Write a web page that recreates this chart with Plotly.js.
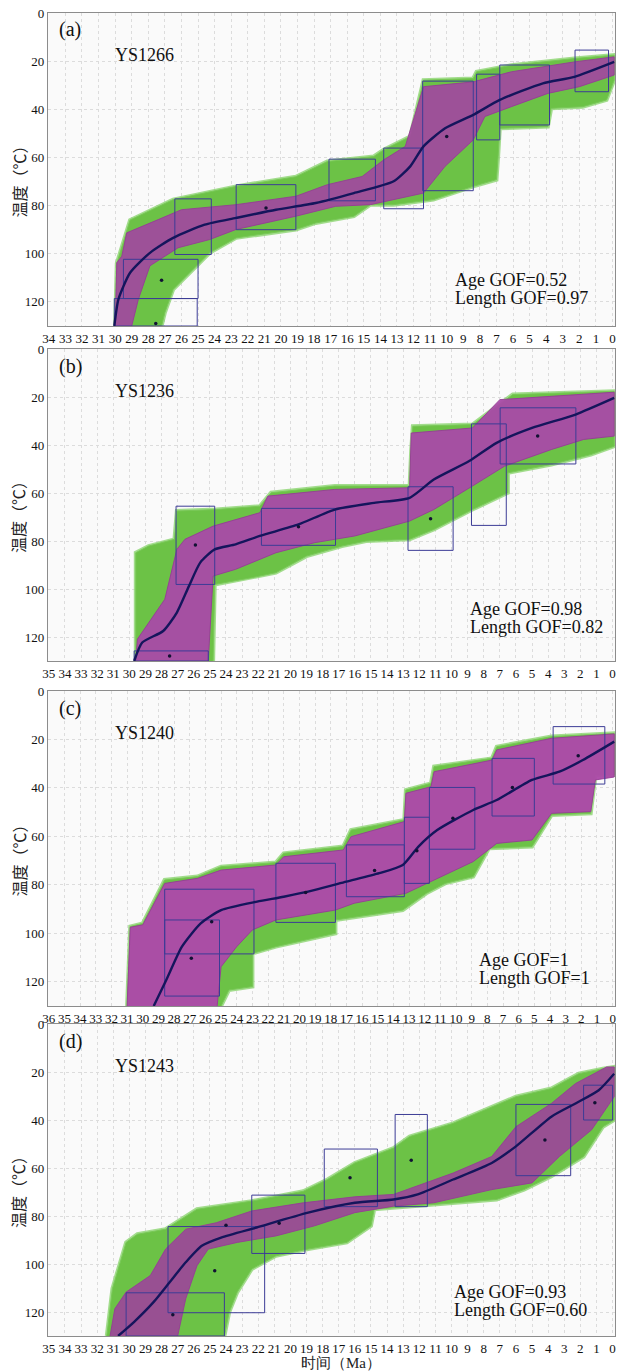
<!DOCTYPE html>
<html>
<head>
<meta charset="utf-8">
<script src="https://cdn.plot.ly/plotly-3.0.1.min.js"></script>
<style>html,body{margin:0;padding:0;background:#fff;}#chart{width:617px;height:1372px;}</style>
</head>
<body>
<div id="chart"></div>
<script>
// ---------------- DATA ----------------
// Panel (a) YS1266
var aGreenUpT = [30.0, 29.9, 29.1, 26.5, 22.7, 19.1, 17.2, 14.4, 13.8, 12.2, 11.4, 8.4, 8.2, 6.1, 2.3, -0.1];
var aGreenUpC = [130, 104, 86, 77.5, 72, 68, 61.7, 59.6, 56.8, 51.3, 27.9, 27.2, 24.4, 21.7, 18.9, 17.5];
var aGreenLoT = [-0.1, 0.36, 1.8, 3.7, 3.9, 6.8, 6.9, 7.0, 8.4, 10.8, 13.2, 14.6, 15.6, 17.9, 19.1, 22.7, 24.3, 25.1, 26.5, 27.0, 27.2];
var aGreenLoC = [27.9, 36.1, 38.9, 39.6, 47.2, 47.9, 59.6, 69.2, 72, 77.5, 79.6, 79.6, 84.4, 87.2, 89.9, 93.4, 99.6, 105, 114.8, 124.4, 130];
var aGoodUpT = [30.0, 29.9, 29.6, 29.3, 27.4, 26.0, 22.7, 19.1, 17.2, 15.1, 13.8, 12.5, 11.4, 8.4, 6.1, 2.3, -0.1];
var aGoodUpC = [130, 103.7, 101, 91.3, 85.8, 81.7, 79.6, 76.1, 71.3, 67.9, 61, 55.4, 30.6, 28.6, 24.4, 20.3, 18.2];
var aGoodLoT = [-0.1, 2.0, 3.9, 6.1, 7.7, 8.4, 10.1, 11.4, 13.2, 14.6, 16.7, 19.1, 22.7, 24.3, 26.2, 27.9, 28.6, 29.0];
var aGoodLoC = [25.8, 30.6, 33.4, 38.9, 43, 52.7, 63.7, 74.8, 77.5, 79.6, 80.3, 84.4, 89.9, 94.1, 97.5, 105, 118.9, 130];
var aBestT = [30.05, 29.8, 29.1, 27.9, 26.5, 24.6, 22.7, 20.3, 17.9, 15.6, 13.2, 12.2, 11.4, 10.1, 8.4, 6.8, 4.2, 2.3, -0.1];
var aBestC = [130, 118.9, 107.9, 99.6, 93.4, 87.9, 85.1, 81.7, 78.9, 74.8, 69.9, 63.7, 55.4, 47.9, 42.3, 36.1, 29.2, 26.5, 20.3];
var aBoxT0 = [30.05, 29.5, 26.4, 22.7, 17.1, 13.8, 11.45, 8.2, 6.8, 2.26];
var aBoxT1 = [25.05, 25.0, 24.2, 19.1, 14.3, 11.4, 8.4, 6.8, 3.8, 0.24];
var aBoxC0 = [118.6, 102.3, 77.2, 71.3, 60.7, 56.1, 28.3, 25.4, 21.6, 15.4];
var aBoxC1 = [130, 118.6, 100.3, 90, 78, 81.3, 73.8, 52.7, 46.5, 32.7];
var aDotT = [27.55, 20.9, 10.0, 27.2];
var aDotC = [129, 81, 51.3, 111];

// Panel (b) YS1236
var bGreenUpT = [29.6, 29.6, 28.8, 27.2, 27.05, 24.6, 21.9, 21.2, 17.25, 12.6, 12.5, 12.4, 8.7, 7.2, 6.2, -0.1];
var bGreenUpC = [130, 84.9, 82.1, 79.3, 67.5, 66.9, 65.5, 59.9, 57.1, 57.1, 41.9, 32.2, 31.5, 23.9, 19, 17.6];
var bGreenLoT = [-0.1, 1.35, 3.8, 6.5, 6.5, 8.7, 9.9, 11.1, 12.6, 15.3, 16.8, 19.0, 20.9, 22.4, 24.7, 24.8];
var bGreenLoC = [40.5, 44, 48.1, 51.6, 59.9, 66.9, 71, 75.2, 79.3, 80, 82.1, 86.3, 93.2, 95.3, 98.1, 130];
var bGoodUpT = [29.6, 29.5, 27.8, 27.3, 27.05, 26.55, 24.8, 21.9, 21.4, 17.25, 12.6, 12.5, 8.7, 7.0, 3.8, -0.1];
var bGoodUpC = [130, 120.9, 104.3, 90.4, 83.5, 79.3, 73.8, 68.2, 61.3, 58.5, 57.8, 35, 32.9, 21.1, 19.7, 18];
var bGoodLoT = [-0.1, 1.8, 3.8, 6.7, 8.7, 11.1, 12.6, 16.0, 18.5, 20.9, 23.4, 24.8, 25.1];
var bGoodLoC = [36.3, 37.7, 41.9, 48.8, 57.1, 66.9, 71.7, 77.9, 80.7, 84.9, 91.8, 94.6, 130];
var bBestT = [29.7, 29.2, 27.9, 27.05, 26.3, 25.6, 24.7, 23.4, 21.9, 19.5, 17.25, 14.8, 12.6, 11.1, 8.9, 7.2, 5.0, 2.3, -0.1];
var bBestC = [130, 122.3, 117.5, 109.8, 98.8, 89, 83.5, 81.4, 77.9, 73.1, 66.9, 64.1, 62, 54.4, 46.7, 39.1, 32.9, 27.3, 20.4];
var bBoxT0 = [29.7, 27.1, 21.8, 12.7, 8.76, 6.98];
var bBoxT1 = [25.1, 24.7, 17.2, 9.9, 6.6, 2.28];
var bBoxC0 = [125.8, 65.5, 66.4, 57.4, 31.2, 24.5];
var bBoxC1 = [130, 98.1, 81.8, 83.9, 73.5, 47.9];
var bDotT = [11.3, 19.5, 4.65, 25.9, 27.5];
var bDotC = [70.7, 74.1, 36.3, 81.7, 127.9];

// Panel (c) YS1240
var cGreenUpT = [31.0, 30.8, 30.0, 28.6, 26.5, 25.0, 21.5, 21.0, 17.2, 16.7, 13.3, 13.2, 11.6, 11.4, 7.7, 7.4, 3.9, -0.1];
var cGreenUpC = [130, 97.2, 95.9, 78, 76.6, 72.5, 70.8, 67, 64.2, 57.4, 53.2, 40.9, 38.1, 31.2, 27.8, 23, 18.8, 17.5];
var cGreenLoT = [-0.1, 1.1, 1.4, 3.9, 5.15, 7.9, 8.9, 10.7, 11.9, 13.4, 17.7, 17.7, 21.5, 23.0, 23.0, 24.5, 25.0];
var cGreenLoC = [34.7, 34.7, 50.5, 51.2, 64.2, 64.9, 76.6, 79.4, 83.5, 90.4, 94.5, 100, 105.5, 108.3, 122, 123.4, 130];
var cGoodUpT = [31.0, 30.8, 30.0, 28.6, 26.5, 25.0, 21.5, 21.0, 17.2, 16.7, 13.3, 13.2, 11.6, 11.4, 7.7, 7.4, 3.9, -0.1];
var cGoodUpC = [130, 97.5, 96.5, 79.4, 77.3, 73.9, 71.8, 68.4, 65.6, 60.1, 53.9, 42.2, 39.5, 33.3, 28.5, 24.3, 19.5, 17.7];
var cGoodLoT = [-0.1, 1.1, 1.4, 3.9, 5.15, 7.4, 8.9, 11.4, 13.2, 16.5, 17.7, 21.5, 23.0, 24.0, 25.0, 25.25];
var cGoodLoC = [35.5, 36.7, 49.8, 50.5, 61.5, 62.9, 70.4, 78, 83.5, 87.6, 90.4, 94.5, 98.6, 105.5, 113.8, 130];
var cBestT = [29.3, 28.5, 27.5, 26.3, 25.0, 22.7, 21.0, 19.0, 17.0, 14.9, 13.4, 12.4, 11.2, 8.9, 7.4, 5.15, 3.4, 1.9, -0.1];
var cBestC = [130, 119.3, 105.5, 95.9, 90.4, 86.9, 84.9, 82.1, 78.7, 75.2, 71.8, 64.2, 57.4, 49.1, 45, 36.7, 33.3, 28.5, 20.9];
var cBoxT0 = [28.6, 28.6, 21.5, 17.0, 13.3, 11.7, 7.7, 3.8];
var cBoxT1 = [22.9, 25.1, 17.7, 13.3, 11.7, 8.8, 5.0, 0.5];
var cBoxC0 = [81.8, 94.5, 71.1, 63.5, 52.1, 39.8, 27.8, 14.7];
var cBoxC1 = [108.5, 125.9, 95.5, 84.9, 79.4, 65.3, 51.6, 38.4];
var cDotT = [26.9, 25.6, 19.6, 15.2, 12.5, 10.2, 6.4, 2.2];
var cDotC = [110.3, 95.2, 83.2, 74.1, 65.9, 52.5, 39.8, 26.7];

// Panel (d) YS1243
var dGreenUpT = [31.4, 31.05, 30.2, 29.5, 27.75, 25.8, 22.4, 19.2, 17.7, 16.0, 13.6, 12.6, 9.9, 7.7, 6.0, 3.8, 2.1, 0.6, -0.1];
var dGreenUpC = [130, 110.3, 91, 87.6, 85.5, 77.2, 73.8, 69.7, 64.8, 57.9, 51.7, 46.9, 41.4, 35.2, 30.3, 26.9, 20.7, 18.6, 17.9];
var dGreenLoT = [-0.1, 0.6, 1.8, 3.8, 5.5, 7.2, 11.1, 13.6, 14.8, 15.0, 16.5, 18.9, 20.9, 22.4, 23.3, 23.8, 24.1];
var dGreenLoC = [40, 42.8, 55.2, 63.4, 69, 73.1, 75.2, 76.6, 77.2, 84.1, 91, 93.8, 96.6, 102.1, 111.7, 120, 130];
var dGoodUpT = [31.2, 30.9, 30.2, 28.7, 27.75, 26.5, 24.6, 22.4, 19.2, 16.0, 13.6, 11.6, 9.9, 7.5, 6.0, 3.8, 2.3, 0.37, -0.1];
var dGoodUpC = [130, 118.6, 111.7, 104.8, 93.8, 85.5, 82.8, 77.9, 74.5, 72, 71, 66.2, 62.1, 55.2, 42.8, 33.1, 24.8, 17.9, 17.9];
var dGoodLoT = [-0.1, 1.3, 3.3, 5.0, 7.5, 11.1, 13.6, 16.0, 18.5, 20.9, 23.3, 25.1, 25.8, 26.5, 27.0];
var dGoodLoC = [30.3, 44.1, 55.2, 66.2, 69, 74.5, 75.9, 78.6, 84.1, 88.3, 91, 93.8, 100.7, 114.5, 130];
var dBestT = [30.7, 29.7, 28.5, 27.5, 26.5, 25.5, 24.3, 22.1, 18.9, 16.0, 13.6, 12.1, 9.9, 7.5, 6.0, 3.8, 2.3, 0.86, -0.1];
var dBestC = [130, 124.1, 115.9, 107.6, 99.3, 92.4, 89, 84.8, 78.6, 74.5, 73.1, 71, 64.8, 57.9, 51, 38.6, 33.1, 27.6, 20.7];
var dBoxT0 = [30.2, 27.6, 22.4, 17.9, 13.5, 6.0, 1.8];
var dBoxT1 = [24.1, 21.6, 19.1, 14.6, 11.5, 2.6, 0.0];
var dBoxC0 = [112, 84.4, 71.3, 52.1, 37.7, 33.5, 25.5];
var dBoxC1 = [130, 120.3, 95.6, 76.1, 76.1, 63.2, 40];
var dDotT = [16.3, 12.5, 24.7, 27.3, 4.2, 1.1, 20.7, 24.0];
var dDotC = [64.1, 56.8, 102.8, 121.1, 48.3, 32.8, 83, 83.9];

var panelLetters = ['(a)', '(b)', '(c)', '(d)'];
var sampleNames = ['YS1266', 'YS1236', 'YS1240', 'YS1243'];
var ageGOF = ['0.52', '0.98', '1', '0.93'];
var lengthGOF = ['0.97', '0.82', '1', '0.60'];
var xMax = [34, 35, 36, 35];
var yTickVals = [0, 20, 40, 60, 80, 100, 120];

// ---------------- BUILD ----------------
var W = 617, H = 1372;
var panels = [
  {gu:[aGreenUpT,aGreenUpC], gl:[aGreenLoT,aGreenLoC], mu:[aGoodUpT,aGoodUpC], ml:[aGoodLoT,aGoodLoC], best:[aBestT,aBestC], box:[aBoxT0,aBoxT1,aBoxC0,aBoxC1], dot:[aDotT,aDotC], top:13, bot:326, magenta:'rgba(165,62,165,0.86)'},
  {gu:[bGreenUpT,bGreenUpC], gl:[bGreenLoT,bGreenLoC], mu:[bGoodUpT,bGoodUpC], ml:[bGoodLoT,bGoodLoC], best:[bBestT,bBestC], box:[bBoxT0,bBoxT1,bBoxC0,bBoxC1], dot:[bDotT,bDotC], top:349, bot:661, magenta:'rgba(170,70,170,0.92)'},
  {gu:[cGreenUpT,cGreenUpC], gl:[cGreenLoT,cGreenLoC], mu:[cGoodUpT,cGoodUpC], ml:[cGoodLoT,cGoodLoC], best:[cBestT,cBestC], box:[cBoxT0,cBoxT1,cBoxC0,cBoxC1], dot:[cDotT,cDotC], top:691, bot:1006, magenta:'rgba(172,74,168,0.97)'},
  {gu:[dGreenUpT,dGreenUpC], gl:[dGreenLoT,dGreenLoC], mu:[dGoodUpT,dGoodUpC], ml:[dGoodLoT,dGoodLoC], best:[dBestT,dBestC], box:[dBoxT0,dBoxT1,dBoxC0,dBoxC1], dot:[dDotT,dDotC], top:1024, bot:1336, magenta:'rgba(160,60,160,0.85)'}
];

var serif = 'Liberation Serif';
var cjk = 'Noto Sans CJK SC';
var traces = [];
var layout = {
  width: W, height: H,
  margin: {l:0, r:0, t:0, b:0},
  paper_bgcolor: '#ffffff',
  plot_bgcolor: '#fafafa',
  showlegend: false,
  annotations: []
};

panels.forEach(function(p, i) {
  var n = i + 1;
  var sfx = (n === 1 ? '' : String(n));
  var xa = 'x' + sfx, ya = 'y' + sfx;
  var gx = p.gu[0].concat(p.gl[0]), gy = p.gu[1].concat(p.gl[1]);
  // soft halo of green envelope edge
  traces.push({type:'scatter', mode:'lines', xaxis:xa, yaxis:ya, x:gx, y:gy,
    line:{color:'rgba(140,212,112,0.8)', width:4}, hoverinfo:'skip'});
  // green envelope (acceptable paths)
  traces.push({type:'scatter', mode:'lines', xaxis:xa, yaxis:ya, x:gx, y:gy,
    fill:'toself', fillcolor:'rgb(108,194,70)',
    line:{color:'rgb(120,200,86)', width:1}, hoverinfo:'skip'});
  // magenta envelope (good paths)
  traces.push({type:'scatter', mode:'lines', xaxis:xa, yaxis:ya,
    x: p.mu[0].concat(p.ml[0]), y: p.mu[1].concat(p.ml[1]),
    fill:'toself', fillcolor:p.magenta,
    line:{color:'rgba(150,60,150,0.9)', width:1}, hoverinfo:'skip'});
  // constraint boxes
  var bx = [], by = [];
  for (var k = 0; k < p.box[0].length; k++) {
    var t0 = p.box[0][k], t1 = p.box[1][k], c0 = p.box[2][k], c1 = p.box[3][k];
    bx.push(t0, t1, t1, t0, t0, null);
    by.push(c0, c0, c1, c1, c0, null);
  }
  traces.push({type:'scatter', mode:'lines', xaxis:xa, yaxis:ya, x:bx, y:by,
    line:{color:'#3c3c96', width:1}, connectgaps:false, hoverinfo:'skip'});
  // best-fit path
  traces.push({type:'scatter', mode:'lines', xaxis:xa, yaxis:ya,
    x:p.best[0], y:p.best[1], line:{color:'#15155c', width:2.4, shape:'spline', smoothing:0.6}, hoverinfo:'skip'});
  // dots
  traces.push({type:'scatter', mode:'markers', xaxis:xa, yaxis:ya,
    x:p.dot[0], y:p.dot[1], marker:{color:'#111133', size:3.5}, hoverinfo:'skip'});

  var ticks = [];
  for (var t = 0; t <= xMax[i]; t++) ticks.push(t);
  layout['xaxis' + sfx] = {
    domain:[48/W, 615/W], range:[xMax[i] + 0.05, -0.15], anchor:ya,
    tickvals: ticks, ticktext: ticks.map(String),
    tickfont:{family:serif, size:13, color:'#111'},
    showgrid:true, gridcolor:'#dcdcdc', griddash:'dot', gridwidth:1,
    showline:true, linecolor:'#8c8c8c', linewidth:1.2, mirror:true,
    ticks:'', zeroline:false, fixedrange:true
  };
  layout['yaxis' + sfx] = {
    domain:[1 - p.bot/H, 1 - p.top/H], range:[130, 0], anchor:xa,
    tickvals: yTickVals, ticktext: yTickVals.map(String),
    tickfont:{family:serif, size:13, color:'#111'},
    showgrid:true, gridcolor:'#dcdcdc', griddash:'dot', gridwidth:1,
    showline:true, linecolor:'#8c8c8c', linewidth:1.2, mirror:true,
    ticks:'', zeroline:false, fixedrange:true
  };

  // annotations
  var A = layout.annotations;
  A.push({xref:'paper', yref:'paper', x:57/W, y:1 - (p.top + 17)/H, xanchor:'left', yanchor:'middle',
    text:panelLetters[i], showarrow:false, font:{family:serif, size:20, color:'#111'}});
  A.push({xref:'paper', yref:'paper', x:113/W, y:1 - (p.top + 42)/H, xanchor:'left', yanchor:'middle',
    text:sampleNames[i], showarrow:false, font:{family:serif, size:18, color:'#111'}});
  var gxp = [453, 468, 477, 452][i];
  var gyp = [280, 609, 960, 1292][i];
  A.push({xref:'paper', yref:'paper', x:gxp/W, y:1 - gyp/H, xanchor:'left', yanchor:'middle',
    text:'Age GOF=' + ageGOF[i], showarrow:false, font:{family:serif, size:18, color:'#111'}});
  A.push({xref:'paper', yref:'paper', x:gxp/W, y:1 - (gyp + 18)/H, xanchor:'left', yanchor:'middle',
    text:'Length GOF=' + lengthGOF[i], showarrow:false, font:{family:serif, size:18, color:'#111'}});
  A.push({xref:'paper', yref:'paper', x:18/W, y:1 - ((p.top + p.bot)/2 + 8)/H, xanchor:'center', yanchor:'middle',
    text:'温度（℃）', textangle:-90, showarrow:false, font:{family:cjk, size:16, color:'#222'}});
});

layout.annotations.push({xref:'paper', yref:'paper', x:341/W, y:0, xanchor:'center', yanchor:'bottom',
  text:'时间（Ma）', showarrow:false, borderpad:0, font:{family:serif, size:15, color:'#222'}});

Plotly.newPlot('chart', traces, layout, {staticPlot:true, displayModeBar:false});
</script>
</body>
</html>
